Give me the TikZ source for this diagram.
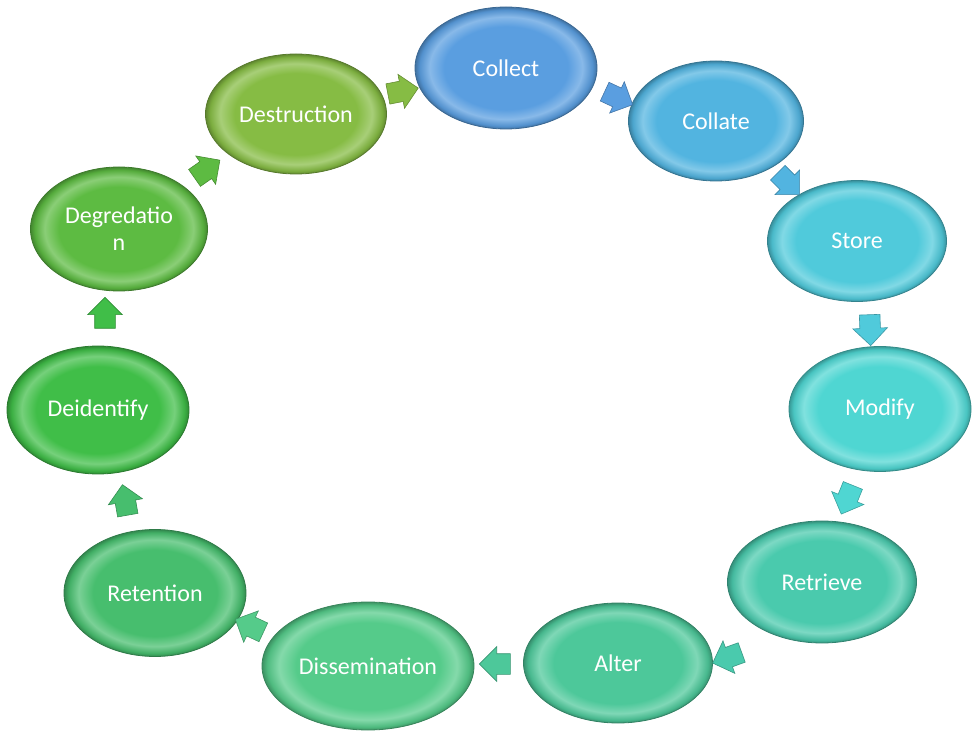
\documentclass[tikz,border=0pt]{standalone}
\usepackage{fontspec}
\setmainfont{Carlito}
\usetikzlibrary{shapes.geometric, shapes.arrows}

\definecolor{collectc}{HTML}{5A9EE0}
\definecolor{collatec}{HTML}{52B4E0}
\definecolor{storec}{HTML}{50CADB}
\definecolor{modifyc}{HTML}{4FD6D2}
\definecolor{retrievec}{HTML}{4ACAAD}
\definecolor{alterc}{HTML}{4DC89A}
\definecolor{dissemc}{HTML}{55CB8A}
\definecolor{retentc}{HTML}{47BE6E}
\definecolor{deidentc}{HTML}{40BE48}
\definecolor{degradc}{HTML}{5DBB42}
\definecolor{destructc}{HTML}{86BC44}

% rim shading: flat face, light bevel, dark edge
\colorlet{phasecol}{collectc}
\pgfdeclareradialshading[phasecol]{rim}{\pgfpoint{0bp}{0bp}}{%
  color(0bp)=(phasecol); color(17bp)=(phasecol);
  color(21bp)=(phasecol!72!white); color(23.8bp)=(phasecol!92!black);
  color(25bp)=(phasecol!72!black); color(50bp)=(phasecol!72!black)}

\begin{document}
\begin{tikzpicture}[
    x=0.5pt, y=-0.5pt,
    phase/.style={
      ellipse, inner sep=0pt, align=center,
      /utils/exec={\colorlet{phasecol}{#1}}, shading=rim,
      draw=#1!65!black, line width=0.4pt,
      text=white, font=\fontsize{12}{13.5}\selectfont},
    step arrow/.style={
      single arrow, inner sep=5pt,
      minimum height=13pt,
      single arrow head extend=3.5pt,
      fill=#1, draw=#1!75!black, line width=0.3pt},
  ]
  \useasboundingbox (0,0) rectangle (974,731);

  % -- phases, clockwise from the top --
  \node[phase=collectc,   minimum width=91pt,  minimum height=61pt] (collect)   at (506,68)  {Collect};
  \node[phase=collatec,   minimum width=87.5pt,minimum height=60pt] (collate)   at (716,121) {Collate};
  \node[phase=storec,     minimum width=89.5pt,minimum height=60.5pt] (store)   at (857,241) {Store};
  \node[phase=modifyc,    minimum width=91pt,  minimum height=62.5pt] (modify)  at (880,409) {Modify};
  \node[phase=retrievec,  minimum width=94.5pt,minimum height=61pt] (retrieve)  at (822,582) {Retrieve};
  \node[phase=alterc,     minimum width=94.5pt,minimum height=60pt] (alter)     at (618,663) {Alter};
  \node[phase=dissemc,    minimum width=106pt, minimum height=64pt] (dissem)    at (368,666) {Dissemination};
  \node[phase=retentc,    minimum width=91pt,  minimum height=63.5pt] (retention) at (155,593) {Retention};
  \node[phase=deidentc,   minimum width=91pt,  minimum height=64pt] (deident)   at (98,410)  {Deidentify};
  \node[phase=degradc,    minimum width=88.5pt,minimum height=62pt] (degrad)    at (119,229) {Degredatio\\n};
  \node[phase=destructc,  minimum width=90.5pt,minimum height=60pt] (destruct)  at (296,114) {Destruction};

  % -- arrows between phases --
  \node[step arrow=destructc, rotate=11]   (a1)  at (398,92)  {};
  \node[step arrow=collectc,  rotate=-25]  (a2)  at (614,96)  {};
  \node[step arrow=collatec,  rotate=-45]  (a3)  at (785,180) {};
  \node[step arrow=storec,    rotate=-88]  (a4)  at (870,325) {};
  \node[step arrow=modifyc,   rotate=-112] (a5)  at (849,495) {};
  \node[step arrow=retrievec, rotate=-160] (a6)  at (732,656) {};
  \node[step arrow=alterc,    rotate=180]  (a7)  at (500,664) {};
  \node[step arrow=dissemc,   rotate=155]  (a8)  at (254,628) {};
  \node[step arrow=retentc,   rotate=100]  (a9)  at (126,505) {};
  \node[step arrow=deidentc,  rotate=90]   (a10) at (105,318) {};
  \node[step arrow=degradc,   rotate=35]   (a11) at (203,172) {};

\end{tikzpicture}
\end{document}
